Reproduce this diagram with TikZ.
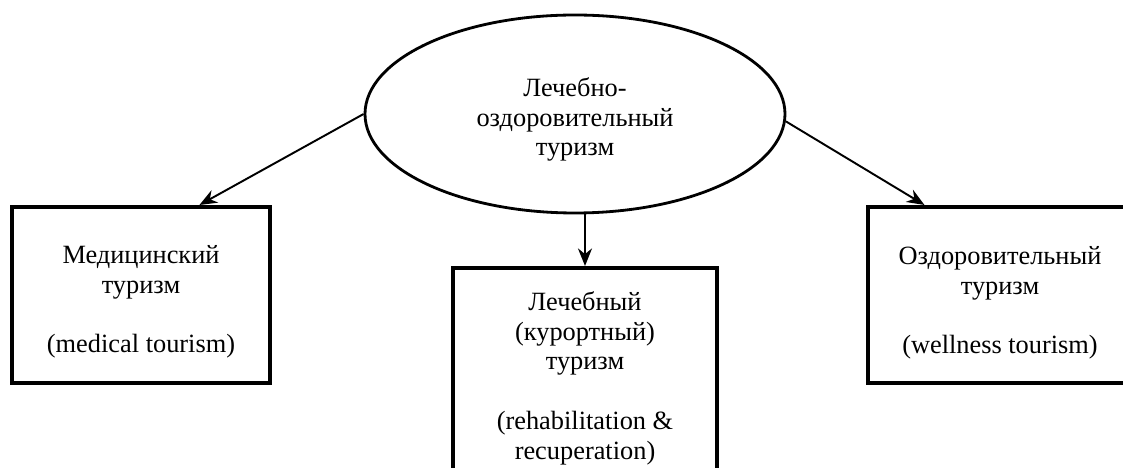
\documentclass[tikz,border=0pt]{standalone}
\usepackage{fontspec}
\setmainfont{Liberation Serif}
\usepackage{tikz}
\usetikzlibrary{shapes,arrows.meta}
\tikzstyle{topic} = [ellipse, draw=black, line width=1.6pt, minimum width=8.4cm, minimum height=3.96cm, inner sep=0pt, text centered, align=center, font=\fontsize{15pt}{17pt}\selectfont]
\tikzstyle{kind} = [rectangle, draw=black, line width=2.3pt, minimum width=5.2cm, minimum height=3.4cm, text centered, align=center, font=\fontsize{15pt}{17pt}\selectfont]
\tikzstyle{arrow} = [line width=1.1pt, -{Stealth[length=10pt, width=8pt]}]

\begin{document}
\begin{tikzpicture}[node distance=3.54cm]
        \clip (0,0) rectangle (22.46,-9.36);
        \node (oval) [topic, text height=1.88cm, text depth=0.2cm] at (11.5,-2.28) {Лечебно-\\оздоровительный\\туризм};
        \node (med) [kind, below of=oval, xshift=-8.68cm, yshift=-0.08cm, minimum width=5.16cm, minimum height=3.52cm, text height=2.52cm, text depth=0.2cm] {Медицинский\\туризм\\[17pt](medical tourism)};
        \node (cure) [kind, below of=oval, xshift=0.2cm, yshift=-1.58cm, minimum width=5.28cm, minimum height=4.08cm, text height=3.58cm, text depth=0cm] {Лечебный\\(курортный)\\туризм\\[17pt](rehabilitation \&\\recuperation)};
        \node (well) [kind, below of=oval, xshift=8.5cm, yshift=-0.08cm, minimum width=5.28cm, minimum height=3.52cm, text height=2.56cm, text depth=0.2cm] {Оздоровительный\\туризм\\[17pt](wellness tourism)};
        \draw [arrow] (oval.west) -- (med.57);
        \draw [arrow] (cure.north |- oval.south) -- (cure.north);
        \draw [arrow] (oval.-2) -- (well.130);
        \end{tikzpicture}
\end{document}
